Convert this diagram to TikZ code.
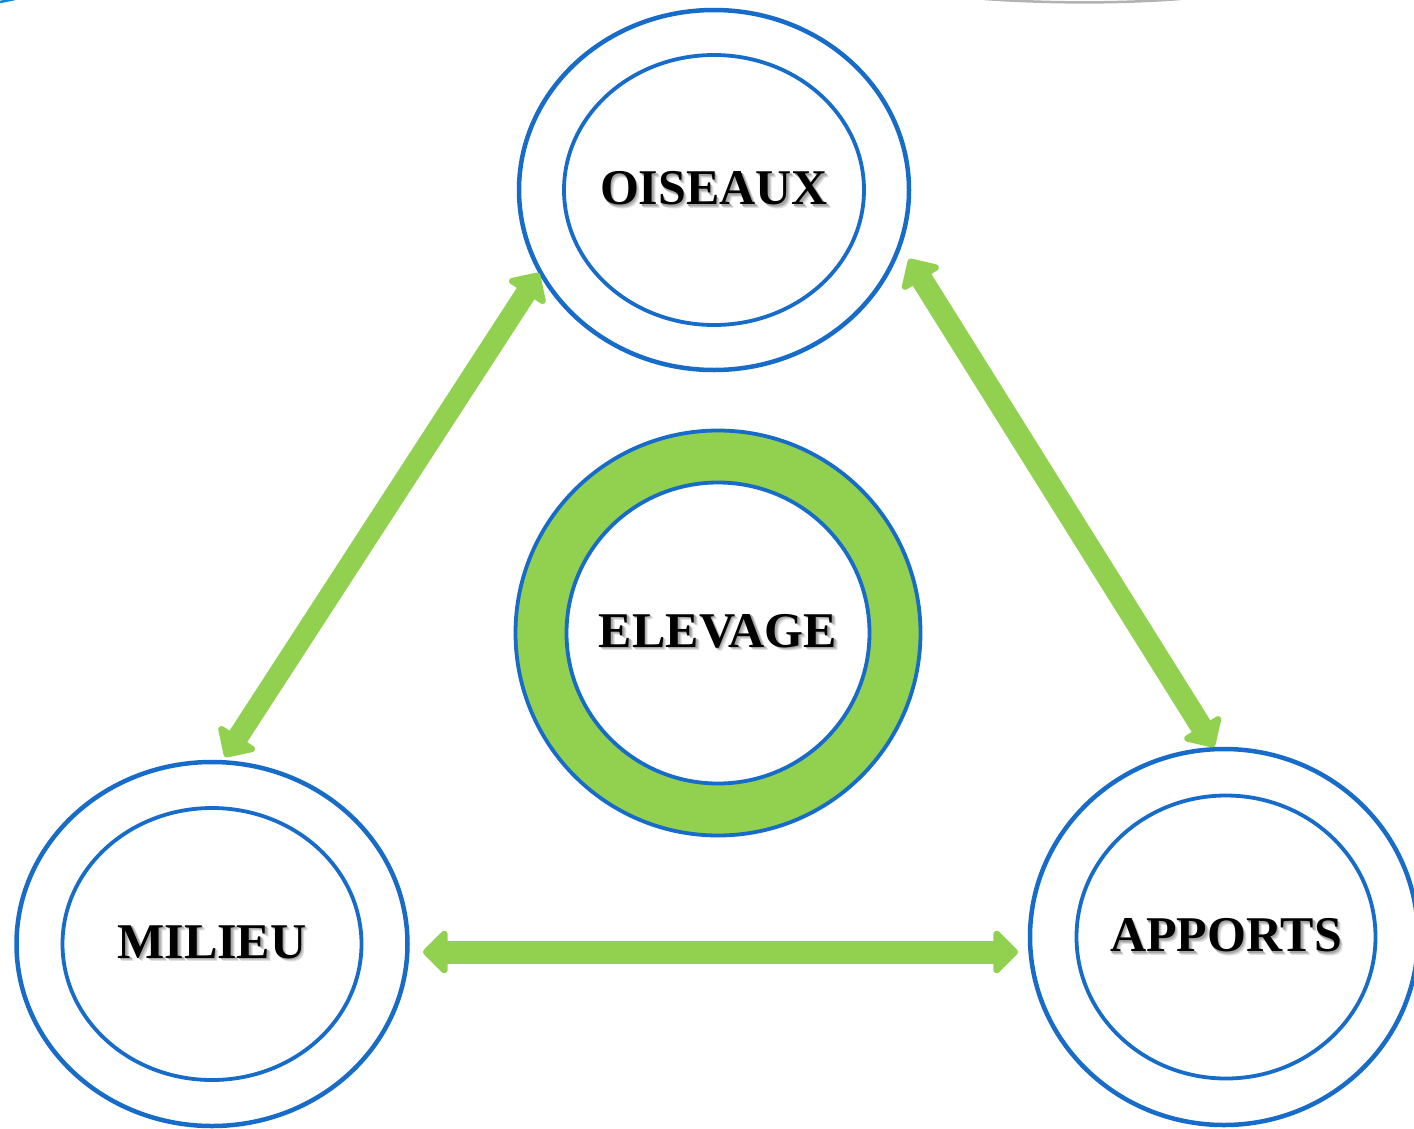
\documentclass[tikz,border=0pt]{standalone}
\usepackage{fontspec}
\setmainfont{Liberation Serif}
\usetikzlibrary{shapes.geometric,arrows.meta}
\definecolor{ringblue}{RGB}{22,108,200}
\definecolor{arrgreen}{RGB}{146,208,80}
\newcommand{\shtext}[1]{\makebox[0pt]{\leavevmode
  \rlap{\kern3.5pt\raisebox{-3.5pt}{\textcolor{black!12}{#1}}}%
  \rlap{\kern2.5pt\raisebox{-2.5pt}{\textcolor{black!22}{#1}}}%
  \rlap{\kern1.5pt\raisebox{-1.5pt}{\textcolor{black!35}{#1}}}#1}}
\tikzset{
  outerring/.style={ellipse, draw=ringblue, line width=4.5pt, fill=white, inner sep=0pt},
  innerring/.style={ellipse, draw=ringblue, line width=3.8pt, fill=white, inner sep=0pt,
     font=\fontsize{50}{50}\selectfont\bfseries},
  greenring/.style={ellipse, draw=ringblue, line width=3.8pt, fill=arrgreen, inner sep=0pt},
  dblarrow/.style={draw=arrgreen, line width=#1, line join=round,
     {Triangle[length=26pt,width=50pt,round]}-{Triangle[length=26pt,width=50pt,round]}},
}
\begin{document}
\begin{tikzpicture}[x=1pt,y=-1pt]
\useasboundingbox[fill=white] (0,0) rectangle (1414,1128);
% edge fragments
\draw[draw=black!30, line width=2.5pt] (985,-1) .. controls (1050,3.5) and (1120,3.5) .. (1180,-1);
\draw[draw=cyan!70!blue, line width=2.5pt] (0,2) -- (15,-1);
% outer rings
\node[outerring, minimum width=390, minimum height=360] (oisO) at (714,190) {};
\node[innerring, minimum width=300, minimum height=270] (ois) at (714,190) {\shtext{OISEAUX}};
\node[outerring, minimum width=391, minimum height=364] (milO) at (212,944) {};
\node[innerring, minimum width=299, minimum height=272] (mil) at (212,944) {\shtext{MILIEU}};
\node[outerring, minimum width=388, minimum height=376] (appO) at (1224,937) {};
\node[innerring, minimum width=299, minimum height=283] (app) at (1226,937) {\shtext{APPORTS}};
\node[greenring, minimum width=405, minimum height=405] (eleO) at (718,633) {};
\node[innerring, minimum width=303, minimum height=301] (ele) at (718,633) {\shtext{ELEVAGE}};
% arrow end points
\coordinate (a1) at (539,273);
\coordinate (a2) at (225,757);
\coordinate (b1) at (909,259);
\coordinate (b2) at (1214,747);
\coordinate (c1) at (423,952);
\coordinate (c2) at (1018,952);
\draw[dblarrow=21pt] (a1) -- (a2);
\draw[dblarrow=22pt] (b1) -- (b2);
\draw[dblarrow=23pt] (c1) -- (c2);
\end{tikzpicture}
\end{document}
